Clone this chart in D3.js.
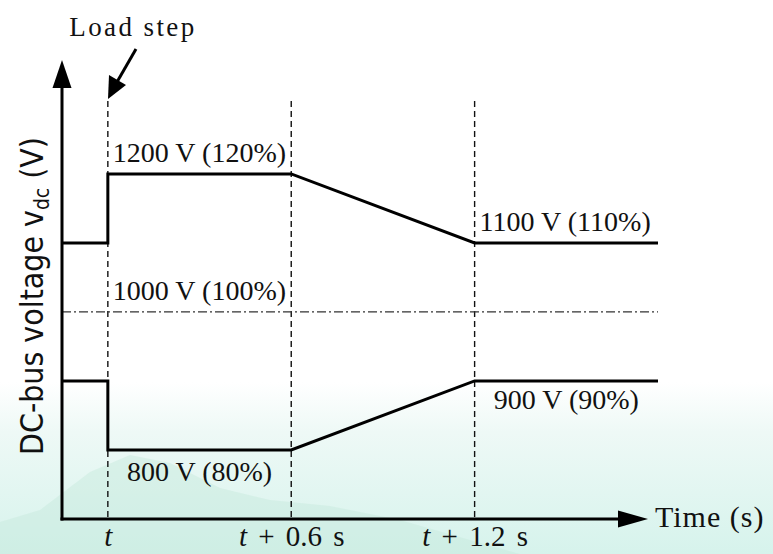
<!DOCTYPE html>
<html>
<head>
<meta charset="utf-8">
<script src="https://cdn.jsdelivr.net/npm/d3@7"></script>
<style>
  html, body { margin: 0; padding: 0; background: #fff; }
  svg { display: block; }
  .serif { font-family: "Liberation Serif", "DejaVu Serif", serif; fill: #111; }
</style>
</head>
<body>
<svg id="chart" width="773" height="554"></svg>
<script>
// Time instants (s, relative to the load step at t) and DC-bus voltage levels (V)
const timePoints   = [-0.15, 0, 0, 0.6, 1.2, 1.8];
const upperVoltage = [1100, 1100, 1200, 1200, 1100, 1100];
const lowerVoltage = [900, 900, 800, 800, 900, 900];
const nominalVoltage = 1000;

// Event markers on the time axis
const markerTimes  = [0, 0.6, 1.2];
const markerLabels = [["t", ""], ["t", " + 0.6 s"], ["t", " + 1.2 s"]];

// Level annotations: [time anchor, voltage, text, alignment]
const levelNotes = [
  [0,   1200, "1200 V (120%)", "start"],
  [1.2, 1100, "1100 V (110%)", "start"],
  [0,   1000, "1000 V (100%)", "start"],
  [0.3, 800,  "800 V (80%)",   "middle"],
  [1.5, 900,  "900 V (90%)",   "middle"]
];

const svg = d3.select("#chart");
const W = 773, H = 554;

const x = d3.scaleLinear().domain([-0.15, 1.8]).range([62, 658]);
const y = d3.scaleLinear().domain([700, 1365]).range([519, 60]);

// Soft teal backdrop at the foot of the figure
const defs = svg.append("defs");
const grad = defs.append("linearGradient").attr("id", "bg").attr("x1", 0).attr("y1", 0).attr("x2", 0).attr("y2", 1);
grad.append("stop").attr("offset", "0.69").attr("stop-color", "#ffffff");
grad.append("stop").attr("offset", "0.78").attr("stop-color", "#eef9f6");
grad.append("stop").attr("offset", "1").attr("stop-color", "#d6f3ec");
svg.append("rect").attr("width", W).attr("height", H).attr("fill", "url(#bg)");
svg.append("path")
  .attr("d", "M0,554 L0,522 L40,510 L90,472 L130,455 L170,463 L220,488 L270,500 L330,506 L400,520 L470,540 L520,554 Z")
  .attr("fill", "#c6e8dc").attr("opacity", 0.45);

const g = svg.append("g");

// Vertical dashed markers
g.selectAll(".marker").data(markerTimes).join("line")
  .attr("x1", d => x(d)).attr("x2", d => x(d))
  .attr("y1", 101).attr("y2", y(700))
  .attr("stroke", "#111").attr("stroke-width", 1.4)
  .attr("stroke-dasharray", "6,4");

// Nominal level, dash-dot
g.append("line")
  .attr("x1", x(-0.15)).attr("x2", x(1.8))
  .attr("y1", y(nominalVoltage)).attr("y2", y(nominalVoltage))
  .attr("stroke", "#333").attr("stroke-width", 1.2)
  .attr("stroke-dasharray", "9,3,2,3");

// Voltage profiles
const line = d3.line().x(d => x(d[0])).y(d => y(d[1]));
[upperVoltage, lowerVoltage].forEach(vals => {
  g.append("path")
    .datum(timePoints.map((t, i) => [t, vals[i]]))
    .attr("d", line)
    .attr("fill", "none").attr("stroke", "#000")
    .attr("stroke-width", 3).attr("stroke-linejoin", "miter");
});

// Axes with arrowheads
const x0 = x(-0.15), yBase = y(700);
g.append("line").attr("x1", x0).attr("x2", x0).attr("y1", yBase + 1.5).attr("y2", 86)
  .attr("stroke", "#000").attr("stroke-width", 3);
g.append("path").attr("d", `M${x0},60 L${x0 - 9.5},88 L${x0 + 9.5},88 Z`).attr("fill", "#000");
g.append("line").attr("x1", x0 - 1.5).attr("x2", 620).attr("y1", yBase).attr("y2", yBase)
  .attr("stroke", "#000").attr("stroke-width", 3);
g.append("path").attr("d", `M648,${yBase} L618,${yBase - 8.5} L618,${yBase + 8.5} Z`).attr("fill", "#000");

// Time tick labels through a bottom axis
const axis = d3.axisBottom(x).tickValues(markerTimes).tickSize(0).tickPadding(0).tickFormat(() => "");
const ax = g.append("g").attr("transform", `translate(0,${yBase})`).call(axis);
ax.select(".domain").remove();
ax.selectAll(".tick text").remove();
ax.selectAll(".tick").append("text")
  .attr("class", "serif").attr("y", 27).attr("text-anchor", "middle")
  .style("font-size", "29px").style("word-spacing", "4px")
  .each(function (d, i) {
    const t = d3.select(this);
    t.append("tspan").attr("font-style", "italic").text(markerLabels[i][0]);
    if (markerLabels[i][1]) t.append("tspan").text(markerLabels[i][1]);
  });

svg.append("text").attr("class", "serif").attr("x", 655).attr("y", 527)
  .style("font-size", "30px").style("letter-spacing", "1px")
  .text("Time (s)");

// Level annotations
g.selectAll(".note").data(levelNotes).join("text")
  .attr("class", "serif")
  .attr("x", d => d[3] === "start" ? x(d[0]) + 5 : x(d[0]))
  .attr("y", d => {
    if (d[1] === 800) return y(d[1]) + 31;
    if (d[1] === 900) return y(d[1]) + 28;
    return y(d[1]) - 12;
  })
  .attr("text-anchor", d => d[3])
  .style("font-size", "28px")
  .text(d => d[2]);

// Load step callout
svg.append("text").attr("class", "serif").attr("x", 133).attr("y", 36)
  .attr("text-anchor", "middle")
  .style("font-size", "27px").style("letter-spacing", "2.4px")
  .text("Load step");
svg.append("line").attr("x1", 136).attr("y1", 49).attr("x2", 117).attr("y2", 82)
  .attr("stroke", "#000").attr("stroke-width", 3);
svg.append("path").attr("d", "M108,99 L109,75 L126,85 Z").attr("fill", "#000");

// Y-axis title
const yt = svg.append("text")
  .attr("transform", "translate(43,296) rotate(-90)")
  .attr("text-anchor", "middle")
  .attr("textLength", 318).attr("lengthAdjust", "spacingAndGlyphs")
  .style("font-family", "'Liberation Sans Narrow', 'DejaVu Sans Condensed', 'Open Sans', sans-serif")
  .style("font-size", "32px").attr("fill", "#111");
yt.append("tspan").text("DC-bus voltage v");
yt.append("tspan").attr("dy", 6).style("font-size", "21px").text("dc");
yt.append("tspan").attr("dy", -6).text(" (V)");
</script>
</body>
</html>
